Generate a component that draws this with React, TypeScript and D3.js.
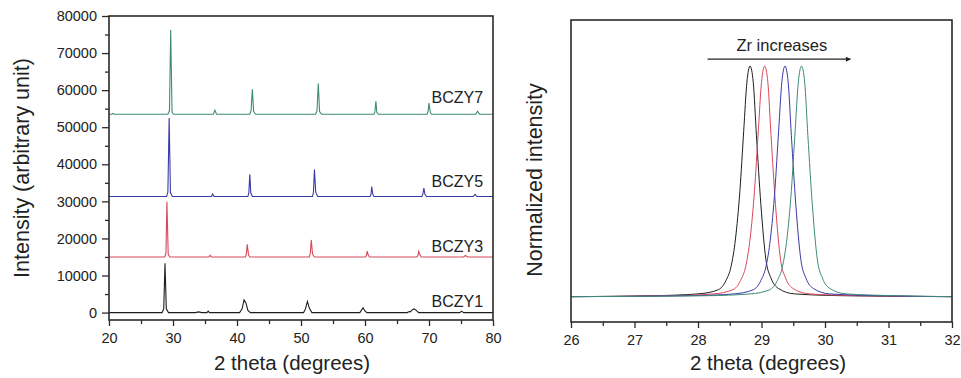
import { useEffect, useRef } from "react";
import * as d3 from "d3";

type Pt = [number, number];

// left panel: full XRD patterns (2 theta, counts)
const bczy1: Pt[] = [
  [20, 0], [28.3, 0], [28.55, 1000], [28.75, 13300], [28.95, 1000], [29.3, 0],
  [33.5, 0], [34.0, 200], [34.5, 0], [35.3, 0], [35.5, 400], [35.7, 0],
  [40.4, 0], [40.8, 1000], [41.1, 3400], [41.4, 2600], [41.7, 600], [42.1, 0],
  [50.4, 0], [50.7, 1000], [51.0, 3000], [51.3, 1200], [51.7, 0],
  [59.2, 0], [59.5, 800], [59.7, 1300], [59.95, 500], [60.3, 0],
  [66.6, 0], [66.9, 300], [67.1, 200], [67.4, 800], [67.7, 1000], [68.0, 600], [68.4, 0],
  [74.8, 0], [75.1, 400], [75.4, 0], [80, 0],
];
const bczy3: Pt[] = [
  [20, 15000], [28.7, 15000], [28.9, 16000], [29.05, 29900], [29.25, 15800], [29.5, 15000],
  [35.6, 15000], [35.8, 15500], [36.0, 15000],
  [41.3, 15000], [41.45, 15700], [41.6, 18400], [41.8, 15600], [42.0, 15000],
  [51.3, 15000], [51.45, 16000], [51.6, 19600], [51.8, 15800], [52.1, 15000],
  [60.1, 15000], [60.25, 15600], [60.35, 16600], [60.5, 15500], [60.7, 15000],
  [68.1, 15000], [68.3, 15600], [68.4, 16500], [68.6, 15500], [68.8, 15000],
  [75.4, 15000], [75.7, 15400], [76.0, 15000], [80, 15000],
];
const bczy5: Pt[] = [
  [20, 31300], [29.0, 31300], [29.2, 32500], [29.4, 52500], [29.6, 32300], [29.9, 31300],
  [36.0, 31300], [36.2, 32000], [36.4, 31300],
  [41.7, 31300], [41.85, 32300], [42.0, 37300], [42.15, 32300], [42.4, 31300],
  [51.8, 31300], [51.95, 32500], [52.1, 38600], [52.3, 32500], [52.6, 31300],
  [60.8, 31300], [60.95, 32000], [61.05, 34000], [61.2, 32000], [61.4, 31300],
  [68.9, 31300], [69.05, 32000], [69.2, 33600], [69.35, 32000], [69.6, 31300],
  [76.9, 31300], [77.2, 31900], [77.5, 31300], [80, 31300],
];
const bczy7: Pt[] = [
  [20, 53500], [20.4, 53500], [20.6, 53700], [20.8, 53500],
  [29.2, 53500], [29.45, 54500], [29.64, 76200], [29.85, 54000], [30.1, 53500],
  [36.3, 53500], [36.55, 54600], [36.8, 53500],
  [42.0, 53500], [42.2, 54500], [42.4, 60200], [42.6, 54200], [42.9, 53500],
  [52.3, 53500], [52.5, 54500], [52.7, 61800], [52.9, 54200], [53.2, 53500],
  [61.4, 53500], [61.55, 54200], [61.7, 57000], [61.85, 54000], [62.1, 53500],
  [69.7, 53500], [69.85, 54300], [70.0, 56500], [70.2, 54000], [70.4, 53500],
  [77.3, 53500], [77.6, 54300], [77.9, 53500], [80, 53500],
];

const sampleNames = ["BCZY1", "BCZY3", "BCZY5", "BCZY7"];
const sampleColors = ["#1e1e1e", "#d8485a", "#3a3aa6", "#3f8a78"];
const labelLevels = [1600, 16400, 33800, 56500];

// right panel: normalized main peak
const peak1: Pt[] = [
  [26, 0], [27.3, 0.004], [28.0, 0.012], [28.32, 0.03], [28.44, 0.07], [28.52, 0.13],
  [28.59, 0.25], [28.66, 0.46], [28.72, 0.72], [28.77, 0.93], [28.82, 1], [28.87, 0.93],
  [28.92, 0.7], [28.99, 0.4], [29.07, 0.16], [29.15, 0.08], [29.27, 0.035], [29.52, 0.012],
  [30.3, 0.004], [32, 0],
];
const peak3: Pt[] = [
  [26, 0], [27.55, 0.004], [28.25, 0.012], [28.55, 0.03], [28.67, 0.07], [28.75, 0.13],
  [28.82, 0.25], [28.89, 0.46], [28.95, 0.72], [29.0, 0.93], [29.05, 1], [29.1, 0.93],
  [29.15, 0.7], [29.22, 0.4], [29.3, 0.16], [29.38, 0.08], [29.5, 0.035], [29.75, 0.012],
  [30.55, 0.004], [32, 0],
];
const peak5: Pt[] = [
  [26, 0], [27.87, 0.004], [28.57, 0.012], [28.87, 0.03], [28.99, 0.07], [29.07, 0.13],
  [29.14, 0.25], [29.21, 0.46], [29.27, 0.72], [29.32, 0.93], [29.37, 1], [29.42, 0.93],
  [29.47, 0.7], [29.54, 0.4], [29.62, 0.16], [29.7, 0.08], [29.82, 0.035], [30.07, 0.012],
  [30.87, 0.004], [32, 0],
];
const peak7: Pt[] = [
  [26, 0], [28.13, 0.004], [28.83, 0.012], [29.13, 0.03], [29.25, 0.07], [29.33, 0.13],
  [29.4, 0.25], [29.47, 0.46], [29.53, 0.72], [29.58, 0.93], [29.63, 1], [29.68, 0.93],
  [29.73, 0.7], [29.8, 0.4], [29.88, 0.16], [29.96, 0.08], [30.08, 0.035], [30.33, 0.012],
  [31.13, 0.004], [32, 0],
];

const W = 961;
const H = 378;
const FONT = "'Liberation Sans', Arial, sans-serif";
const AXIS = "#2a2a2a";

export default function App() {
  const svgRef = useRef<SVGSVGElement>(null);

  useEffect(() => {
    if (!svgRef.current) return;
    const svg = d3.select(svgRef.current);
    svg.selectAll("*").remove();
    svg.style("font-family", FONT);

    svg.append("defs")
      .append("marker")
      .attr("id", "zr-arrow")
      .attr("viewBox", "0 0 10 10")
      .attr("refX", 9)
      .attr("refY", 5)
      .attr("markerWidth", 8)
      .attr("markerHeight", 5)
      .attr("markerUnits", "userSpaceOnUse")
      .attr("orient", "auto")
      .append("path")
      .attr("d", "M0,0 L10,5 L0,10 z")
      .attr("fill", "#222");

    const styleAxis = (g: d3.Selection<SVGGElement, unknown, null, undefined>) => {
      g.select(".domain").remove();
      g.selectAll(".tick line").attr("stroke", AXIS).attr("stroke-width", 1.3);
      g.selectAll(".tick text").attr("fill", "#222").style("font-size", "14.5px").style("font-family", FONT);
    };

    // ---------- left panel ----------
    const xL = d3.scaleLinear().domain([20, 80]).range([109, 493]);
    const yL = d3.scaleLinear().domain([-2000, 80000]).range([320, 16]);
    const left = svg.append("g");

    const seriesL = [bczy1, bczy3, bczy5, bczy7];
    const lineL = d3.line<Pt>().x((d) => xL(d[0])).y((d) => yL(d[1]));
    seriesL.forEach((s, i) => {
      left.append("path")
        .attr("d", lineL(s) ?? "")
        .attr("fill", "none")
        .attr("stroke", sampleColors[i])
        .attr("stroke-width", 1.1);
    });

    sampleNames.forEach((name, i) => {
      left.append("text")
        .attr("x", 431.5)
        .attr("y", yL(labelLevels[i]))
        .attr("fill", "#222")
        .style("font-size", "16px")
        .text(name);
    });

    left.append("g")
      .attr("transform", `translate(0,${yL.range()[0]})`)
      .call(d3.axisBottom(xL).tickValues(d3.range(25, 80, 10)).tickSize(4).tickFormat(() => ""))
      .call(styleAxis);
    left.append("g")
      .attr("transform", `translate(0,${yL.range()[0]})`)
      .call(d3.axisBottom(xL).tickValues(d3.range(20, 81, 10)).tickSize(6).tickPadding(7).tickFormat(d3.format("d")))
      .call(styleAxis);
    left.append("g")
      .attr("transform", `translate(${xL.range()[0]},0)`)
      .call(d3.axisLeft(yL).tickValues(d3.range(5000, 80000, 10000)).tickSize(4).tickFormat(() => ""))
      .call(styleAxis);
    left.append("g")
      .attr("transform", `translate(${xL.range()[0]},0)`)
      .call(d3.axisLeft(yL).tickValues(d3.range(0, 80001, 10000)).tickSize(7).tickPadding(5).tickFormat(d3.format("d")))
      .call(styleAxis);

    left.append("rect")
      .attr("x", xL.range()[0])
      .attr("y", yL.range()[1])
      .attr("width", xL.range()[1] - xL.range()[0])
      .attr("height", yL.range()[0] - yL.range()[1])
      .attr("fill", "none")
      .attr("stroke", AXIS)
      .attr("stroke-width", 1.6);

    left.append("text")
      .attr("x", 292)
      .attr("y", 370)
      .attr("text-anchor", "middle")
      .attr("fill", "#222")
      .style("font-size", "20.5px")
      .text("2 theta (degrees)");
    left.append("text")
      .attr("transform", `translate(29,168) rotate(-90)`)
      .attr("text-anchor", "middle")
      .attr("fill", "#222")
      .style("font-size", "21.5px")
      .text("Intensity (arbitrary unit)");

    // ---------- right panel ----------
    const xR = d3.scaleLinear().domain([26, 32]).range([571, 952]);
    const yR = d3.scaleLinear().domain([-0.11, 1.2]).range([322, 20]);
    const right = svg.append("g");

    const seriesR = [peak1, peak3, peak5, peak7];
    const lineR = d3.line<Pt>().x((d) => xR(d[0])).y((d) => yR(d[1])).curve(d3.curveMonotoneX);
    seriesR.forEach((s, i) => {
      right.append("path")
        .attr("d", lineR(s) ?? "")
        .attr("fill", "none")
        .attr("stroke", sampleColors[i])
        .attr("stroke-width", 1);
    });

    right.append("line")
      .attr("x1", xR(28.15))
      .attr("x2", xR(30.4))
      .attr("y1", yR(1.03))
      .attr("y2", yR(1.03))
      .attr("stroke", "#222")
      .attr("stroke-width", 1.2)
      .attr("marker-end", "url(#zr-arrow)");
    right.append("text")
      .attr("x", xR(29.32))
      .attr("y", yR(1.065))
      .attr("text-anchor", "middle")
      .attr("fill", "#222")
      .style("font-size", "16.5px")
      .text("Zr increases");

    right.append("g")
      .attr("transform", `translate(0,${yR.range()[0]})`)
      .call(d3.axisBottom(xR).tickValues(d3.range(26.5, 32, 1)).tickSize(4).tickFormat(() => ""))
      .call(styleAxis);
    right.append("g")
      .attr("transform", `translate(0,${yR.range()[0]})`)
      .call(d3.axisBottom(xR).tickValues(d3.range(26, 32.1, 1)).tickSize(6).tickPadding(7).tickFormat(d3.format("d")))
      .call(styleAxis);

    right.append("rect")
      .attr("x", xR.range()[0])
      .attr("y", yR.range()[1])
      .attr("width", xR.range()[1] - xR.range()[0])
      .attr("height", yR.range()[0] - yR.range()[1])
      .attr("fill", "none")
      .attr("stroke", AXIS)
      .attr("stroke-width", 1.6);

    right.append("text")
      .attr("x", 768)
      .attr("y", 370)
      .attr("text-anchor", "middle")
      .attr("fill", "#222")
      .style("font-size", "20.5px")
      .text("2 theta (degrees)");
    right.append("text")
      .attr("transform", `translate(542,180) rotate(-90)`)
      .attr("text-anchor", "middle")
      .attr("fill", "#222")
      .style("font-size", "21.5px")
      .text("Normalized intensity");
  }, []);

  return (
    <svg
      ref={svgRef}
      width={W}
      height={H}
      viewBox={`0 0 ${W} ${H}`}
      style={{ position: "absolute", left: 0, top: 0, background: "#fff" }}
    />
  );
}
